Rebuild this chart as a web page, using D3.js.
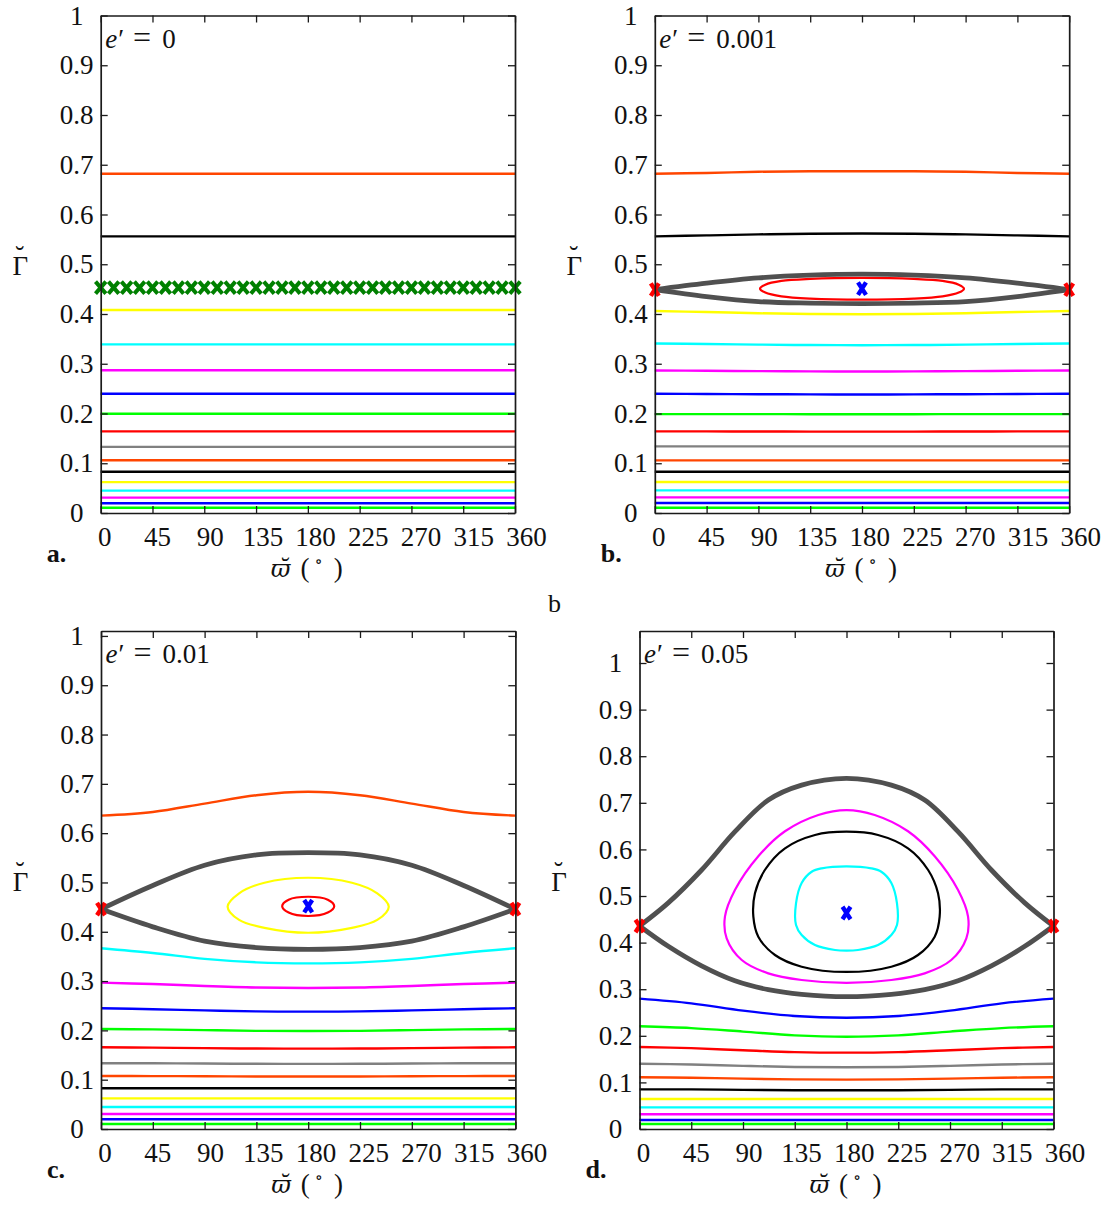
<!DOCTYPE html>
<html><head><meta charset="utf-8">
<script src="https://cdn.jsdelivr.net/npm/d3@7"></script>
<style>
body{margin:0;background:#fff;}
svg text{font-family:"Liberation Serif","DejaVu Serif",serif;fill:#111;}
</style></head><body>
<svg id="chart" width="1113" height="1207"></svg>
<script>
// ---------------- DATA ----------------
const xTicks = [0,45,90,135,180,225,270,315,360];
const yTicks = [0,0.1,0.2,0.3,0.4,0.5,0.6,0.7,0.8,0.9,1];
const yTickLabels = ["0","0.1","0.2","0.3","0.4","0.5","0.6","0.7","0.8","0.9","1"];
const eValues = ["0","0.001","0.01","0.05"];
const panelLetters = ["a.","b.","c.","d."];
const sampleAngles = [0,45,90,135,180,225,270,315,360];

// colours
const OR="#ff4500", BK="#000000", YE="#ffff00", CY="#00ffff", MA="#ff00ff",
      BL="#0000ff", GR="#00ff00", RD="#ff0000", GY="#808080", SEP="#505050";

// Panel a (e'=0): constant levels
const aLevels = [0.682,0.556,0.408,0.339,0.287,0.2396,0.1995,0.164,0.133,0.106,0.083,0.062,0.045,0.031,0.0195,0.0107];
const aColors = [OR,BK,YE,CY,MA,BL,GR,RD,GY,OR,BK,YE,CY,MA,BL,GR];
const aMarkerAngles = [0,11.25,22.5,33.75,45,56.25,67.5,78.75,90,101.25,112.5,123.75,135,146.25,157.5,168.75,180,191.25,202.5,213.75,225,236.25,247.5,258.75,270,281.25,292.5,303.75,315,326.25,337.5,348.75,360];
const aMarkerLevel = 0.453;

// Panel b (e'=0.001): values at sampleAngles
const bCurves = [
  [0.682,0.6835,0.686,0.6868,0.687,0.6868,0.686,0.6835,0.682],
  [0.556,0.558,0.560,0.5613,0.5617,0.5613,0.560,0.558,0.556],
  [0.406,0.404,0.4015,0.400,0.3996,0.400,0.4015,0.404,0.406],
  [0.3407,0.3397,0.3385,0.3376,0.3373,0.3376,0.3385,0.3397,0.3407],
  [0.2865,0.2859,0.2852,0.2847,0.2845,0.2847,0.2852,0.2859,0.2865],
  [0.2396,0.2392,0.2388,0.2384,0.2383,0.2384,0.2388,0.2392,0.2396],
  [0.1988,0.1988,0.1987,0.1986,0.1986,0.1986,0.1987,0.1988,0.1988],
  [0.164,0.164,0.1638,0.1636,0.1635,0.1636,0.1638,0.164,0.164],
  [0.134,0.134,0.134,0.134,0.134,0.134,0.134,0.134,0.134],
  [0.1058,0.1058,0.1058,0.1058,0.1058,0.1058,0.1058,0.1058,0.1058],
  [0.083,0.083,0.083,0.083,0.083,0.083,0.083,0.083,0.083],
  [0.0622,0.0622,0.0622,0.0622,0.0622,0.0622,0.0622,0.0622,0.0622],
  [0.0455,0.0455,0.0455,0.0455,0.0455,0.0455,0.0455,0.0455,0.0455],
  [0.0315,0.0315,0.0315,0.0315,0.0315,0.0315,0.0315,0.0315,0.0315],
  [0.020,0.020,0.020,0.020,0.020,0.020,0.020,0.020,0.020],
  [0.0107,0.0107,0.0107,0.0107,0.0107,0.0107,0.0107,0.0107,0.0107]
];
const bColors = [OR,BK,YE,CY,MA,BL,GR,RD,GY,OR,BK,YE,CY,MA,BL,GR];
const bSepUpper = [[0,0.449],[45,0.462],[90,0.4725],[135,0.478],[180,0.480],[225,0.478],[270,0.4725],[315,0.462],[360,0.449]];
const bSepLower = [[0,0.449],[45,0.435],[90,0.425],[135,0.422],[180,0.421],[225,0.422],[270,0.425],[315,0.435],[360,0.449]];
const bLoopRed = [[91.4,0.451],[96,0.459],[110,0.4665],[135,0.4705],[180,0.4725],[225,0.4705],[250,0.4665],[264,0.459],[268.6,0.451],[264,0.443],[250,0.4355],[225,0.431],[180,0.429],[135,0.431],[110,0.4355],[96,0.443]];
const bSaddles = [[0,0.449],[360,0.449]];
const bCentre = [[180,0.451]];

// Panel c (e'=0.01)
const cCurves = [
  [0.6355,0.643,0.660,0.677,0.684,0.677,0.660,0.643,0.6355],
  [0.3665,0.357,0.345,0.338,0.336,0.338,0.345,0.357,0.3665],
  [0.2968,0.294,0.290,0.287,0.286,0.287,0.290,0.294,0.2968],
  [0.2448,0.243,0.2405,0.2385,0.238,0.2385,0.2405,0.243,0.2448],
  [0.2028,0.202,0.2005,0.199,0.1988,0.199,0.2005,0.202,0.2028],
  [0.1657,0.165,0.164,0.1632,0.163,0.1632,0.164,0.165,0.1657],
  [0.1333,0.1332,0.1328,0.1322,0.132,0.1322,0.1328,0.1332,0.1333],
  [0.1075,0.1073,0.107,0.1066,0.1065,0.1066,0.107,0.1073,0.1075],
  [0.0825,0.0825,0.0825,0.0825,0.0825,0.0825,0.0825,0.0825,0.0825],
  [0.0622,0.0622,0.0622,0.0622,0.0622,0.0622,0.0622,0.0622,0.0622],
  [0.0446,0.0446,0.0446,0.0446,0.0446,0.0446,0.0446,0.0446,0.0446],
  [0.0304,0.0304,0.0304,0.0304,0.0304,0.0304,0.0304,0.0304,0.0304],
  [0.0197,0.0197,0.0197,0.0197,0.0197,0.0197,0.0197,0.0197,0.0197],
  [0.0101,0.0101,0.0101,0.0101,0.0101,0.0101,0.0101,0.0101,0.0101]
];
const cColors = [OR,CY,MA,BL,GR,RD,GY,OR,BK,YE,CY,MA,BL,GR];
const cSepUpper = [[0,0.446],[45,0.494],[90,0.535],[135,0.556],[180,0.5605],[225,0.556],[270,0.535],[315,0.494],[360,0.446]];
const cSepLower = [[0,0.446],[45,0.410],[90,0.381],[135,0.368],[180,0.3645],[225,0.368],[270,0.381],[315,0.410],[360,0.446]];
const cLoopYellow = [[110,0.451],[120,0.478],[142,0.4995],[180,0.5096],[218,0.4995],[240,0.478],[250,0.451],[240,0.424],[218,0.408],[180,0.398],[142,0.408],[120,0.424]];
const cLoopRed = [[157.4,0.452],[163,0.465],[180,0.471],[197,0.465],[202.6,0.452],[197,0.439],[180,0.432],[163,0.439]];
const cSaddles = [[0,0.446],[360,0.446]];
const cCentre = [[180,0.452]];

// Panel d (e'=0.05)
const dCurves = [
  [0.2797,0.2697,0.254,0.2425,0.2389,0.2425,0.254,0.2697,0.2797],
  [0.2204,0.2165,0.209,0.201,0.198,0.201,0.209,0.2165,0.2204],
  [0.176,0.1735,0.169,0.165,0.1638,0.165,0.169,0.1735,0.176],
  [0.140,0.1385,0.1355,0.133,0.1324,0.133,0.1355,0.1385,0.140],
  [0.111,0.110,0.108,0.1065,0.1059,0.1065,0.108,0.110,0.111],
  [0.0851,0.085,0.084,0.0833,0.083,0.0833,0.084,0.085,0.0851],
  [0.0644,0.0644,0.0644,0.0644,0.0644,0.0644,0.0644,0.0644,0.0644],
  [0.0465,0.0465,0.0465,0.0465,0.0465,0.0465,0.0465,0.0465,0.0465],
  [0.0315,0.0315,0.0315,0.0315,0.0315,0.0315,0.0315,0.0315,0.0315],
  [0.0193,0.0193,0.0193,0.0193,0.0193,0.0193,0.0193,0.0193,0.0193],
  [0.0107,0.0107,0.0107,0.0107,0.0107,0.0107,0.0107,0.0107,0.0107]
];
const dColors = [BL,GR,RD,GY,OR,BK,YE,CY,MA,BL,GR];
const dSepUpper = [[0,0.4356],[25,0.4853],[54,0.5558],[83,0.638],[112,0.706],[141,0.738],[180,0.7526],[219,0.738],[248,0.706],[277,0.638],[306,0.5558],[335,0.4853],[360,0.4356]];
const dSepLower = [[0,0.4356],[25,0.392],[54,0.350],[83,0.318],[112,0.299],[141,0.289],[180,0.284],[219,0.289],[248,0.299],[277,0.318],[306,0.350],[335,0.392],[360,0.4356]];
const dLoopMagenta = [[180,0.6845],[155.5,0.674],[126.5,0.639],[103.3,0.5854],[83,0.5129],[74.3,0.4556],[75.8,0.4092],[88.9,0.3627],[112,0.334],[141,0.3197],[180,0.3135],[219,0.3197],[248,0.334],[271.1,0.3627],[284.2,0.4092],[285.7,0.4556],[277,0.5129],[256.7,0.5854],[233.5,0.639],[204.5,0.674]];
const dLoopBlack = [[180,0.638],[152.6,0.631],[126.5,0.6024],[109,0.5558],[100.4,0.5057],[99,0.4556],[103.3,0.4127],[117.8,0.3734],[141,0.3483],[180,0.337],[219,0.3483],[242.2,0.3734],[256.7,0.4127],[261,0.4556],[259.6,0.5057],[251,0.5558],[233.5,0.6024],[207.4,0.631]];
const dLoopCyan = [[180,0.5637],[158.4,0.5594],[149.7,0.552],[141,0.528],[136.1,0.4843],[136.1,0.4378],[141,0.4163],[152.6,0.3948],[170,0.3841],[180,0.3827],[190,0.3841],[207.4,0.3948],[219,0.4163],[223.9,0.4378],[223.9,0.4843],[219,0.528],[210.3,0.552],[201.6,0.5594]];
const dSaddles = [[0,0.4356],[360,0.4356]];
const dCentre = [[180,0.4635]];

// ---------------- DRAWING ----------------
const svg = d3.select("#chart");
const FS = 27;
const INK = "#111";

const panels = [
  {xr:[100.7,515],  yr:[513,15.5], ymax:1,      kind:"a"},
  {xr:[654.8,1069.2], yr:[513,15.5], ymax:1,    kind:"b"},
  {xr:[101,515.4],  yr:[1129,631], ymax:1.01,   kind:"c"},
  {xr:[639.5,1053.5], yr:[1129,631], ymax:1.0687, kind:"d"}
];

function xMarker(g, pts, x, y, color, hw, hh, sw){
  g.selectAll(null).data(pts).enter().append("path")
    .attr("transform", d=>`translate(${x(d[0])},${y(d[1])})`)
    .attr("d", `M${-hw},${-hh}L${hw},${hh}M${-hw},${hh}L${hw},${-hh}`)
    .attr("stroke", color).attr("stroke-width", sw).attr("fill","none");
}

panels.forEach((p, pi)=>{
  const x = d3.scaleLinear().domain([0,360]).range(p.xr);
  const y = d3.scaleLinear().domain([0,p.ymax]).range(p.yr);
  const lx = d3.scaleLinear().domain([0,360]).range([p.xr[0]+3.5, p.xr[1]+11]);
  const g = svg.append("g");
  const openLine = d3.line().x(d=>x(d[0])).y(d=>y(d[1])).curve(d3.curveCatmullRom.alpha(0.5));
  const closedLine = d3.line().x(d=>x(d[0])).y(d=>y(d[1])).curve(d3.curveCatmullRomClosed.alpha(0.5));
  const drawOpen = (vals, color, w)=> g.append("path").datum(sampleAngles.map((a,i)=>[a,vals[i]]))
      .attr("d", openLine).attr("fill","none").attr("stroke",color).attr("stroke-width",w);
  const drawPts = (pts, color, w, closed)=> g.append("path").datum(pts)
      .attr("d", closed?closedLine:openLine).attr("fill","none").attr("stroke",color).attr("stroke-width",w);
  const LW = 2.4, SW = 4.8;

  if(p.kind==="a"){
    aLevels.forEach((v,i)=> drawPts([[0,v],[360,v]], aColors[i], LW, false));
    xMarker(g, aMarkerAngles.map(a=>[a,aMarkerLevel]), x, y, "#008000", 5.2, 6, 4);
  } else if(p.kind==="b"){
    bCurves.forEach((v,i)=> drawOpen(v, bColors[i], LW));
    drawPts(bLoopRed, RD, 2.2, true);
    drawPts(bSepUpper, SEP, SW, false);
    drawPts(bSepLower, SEP, SW, false);
    xMarker(g, bSaddles, x, y, RD, 4, 6.2, 4.4);
    xMarker(g, bCentre, x, y, BL, 4, 6.2, 4.4);
  } else if(p.kind==="c"){
    cCurves.forEach((v,i)=> drawOpen(v, cColors[i], LW));
    drawPts(cLoopYellow, YE, 2.2, true);
    drawPts(cLoopRed, RD, 2.2, true);
    drawPts(cSepUpper, SEP, SW, false);
    drawPts(cSepLower, SEP, SW, false);
    xMarker(g, cSaddles, x, y, RD, 4, 6.2, 4.4);
    xMarker(g, cCentre, x, y, BL, 4, 6.2, 4.4);
  } else {
    dCurves.forEach((v,i)=> drawOpen(v, dColors[i], LW));
    drawPts(dLoopMagenta, MA, 2.2, true);
    drawPts(dLoopBlack, BK, 2.2, true);
    drawPts(dLoopCyan, CY, 2.2, true);
    drawPts(dSepUpper, SEP, SW, false);
    drawPts(dSepLower, SEP, SW, false);
    xMarker(g, dSaddles, x, y, RD, 4, 6.2, 4.4);
    xMarker(g, dCentre, x, y, BL, 4, 6.2, 4.4);
  }

  // axes (frame + inward ticks)
  const ax = svg.append("g");
  const bottom = ax.append("g").attr("transform",`translate(0,${p.yr[0]})`)
    .call(d3.axisBottom(x).tickValues(xTicks).tickSize(-7).tickSizeOuter(0).tickPadding(14).tickFormat(d=>String(d)));
  bottom.selectAll(".tick text").attr("x", d=> lx(d)-x(d)).style("font-size",FS+"px");
  ax.append("g").attr("transform",`translate(0,${p.yr[1]})`)
    .call(d3.axisTop(x).tickValues(xTicks).tickSize(-7).tickSizeOuter(0).tickFormat(""));
  const left = ax.append("g").attr("transform",`translate(${p.xr[0]},0)`)
    .call(d3.axisLeft(y).tickValues(yTicks).tickSize(-7).tickSizeOuter(0).tickFormat((d,i)=>yTickLabels[i]));
  left.selectAll(".tick text").attr("x",-24).attr("text-anchor","middle").style("font-size",FS+"px");
  ax.append("g").attr("transform",`translate(${p.xr[1]},0)`)
    .call(d3.axisRight(y).tickValues(yTicks).tickSize(-7).tickSizeOuter(0).tickFormat(""));
  ax.selectAll(".domain").attr("stroke","#1a1a1a").attr("stroke-width",1.7);
  ax.selectAll(".tick line").attr("stroke","#1a1a1a").attr("stroke-width",1.3);
  ax.selectAll("text").attr("fill",INK).attr("font-family",'"Liberation Serif","DejaVu Serif",serif');

  // annotation e'
  const t = svg.append("text").attr("x",p.xr[0]+4.5).attr("y",p.yr[1]+32).style("font-size",FS+"px");
  t.append("tspan").attr("font-style","italic").text("e");
  t.append("tspan").attr("dx",1).text("\u2032");
  t.append("tspan").attr("dx",9).style("font-size","32px").text("=");
  t.append("tspan").attr("dx",11).text(eValues[pi]);

  // x-axis label: varpi with combining breve, ( degree )
  const cx = (p.xr[0]+p.xr[1])/2, by = p.yr[0]+64;
  const xl = svg.append("text").attr("x",cx-37).attr("y",by).style("font-size","27px");
  xl.append("tspan").attr("font-style","italic").style("font-family","'DejaVu Serif'").style("font-size","24px").text("\u03D6\u0306");
  xl.append("tspan").attr("dx",10).text("(");
  xl.append("tspan").attr("dx",5).attr("dy",-10).style("font-size","17px").text("\u2218");
  xl.append("tspan").attr("dx",11).attr("dy",10).text(")");

  // y-axis label: Gamma with breve (per-character positioning in one text node)
  const gy = (p.yr[0]+p.yr[1])/2+11;
  svg.append("text").attr("x",p.xr[0]-88.3).attr("y",gy)
    .attr("dx","0 -12.8").attr("dy","0 -10")
    .style("font-size","27px").text("\u0393\u02D8");

  // panel letter
  svg.append("text").attr("x",p.xr[0]-54).attr("y",p.yr[0]+49)
    .attr("font-weight","bold").style("font-size","26px").text(panelLetters[pi]);
});

svg.append("text").attr("x",548).attr("y",612).style("font-size","26px").text("b");
</script>
</body></html>
